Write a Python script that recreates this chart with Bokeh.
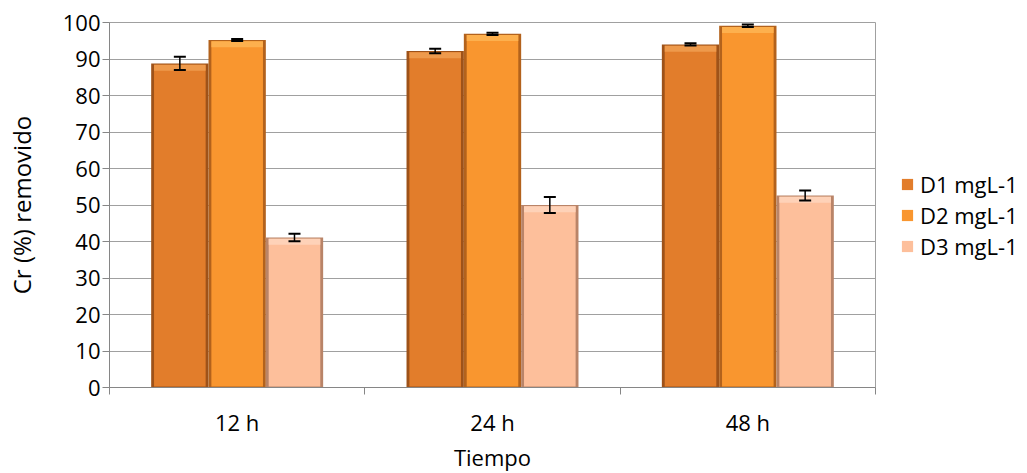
from bokeh.plotting import figure
from bokeh.models import (ColumnDataSource, Range1d, FixedTicker, Whisker, TeeHead,
                          Legend, LegendItem)
from bokeh.embed import file_html
from bokeh.resources import INLINE

# ---- data -------------------------------------------------------------
times = ["12 h", "24 h", "48 h"]
series = ["D1 mgL-1", "D2 mgL-1", "D3 mgL-1"]
d1 = [88.8, 92.2, 94.0]
d2 = [95.2, 96.9, 99.1]
d3 = [41.1, 50.0, 52.6]
e1 = [1.8, 0.6, 0.3]
e2 = [0.3, 0.3, 0.35]
e3 = [1.0, 2.2, 1.4]
y_ticks = [0, 10, 20, 30, 40, 50, 60, 70, 80, 90, 100]

# ---- style ------------------------------------------------------------
FONT = "Open Sans"
W = 0.2245
offsets = [-W, 0.0, W]
face = ["#E27D2B", "#F9962F", "#FDBF9B"]
edge = ["#9E5219", "#B3621C", "#B98468"]
band = ["#EE9A4C", "#FDB04E", "#FED2B8"]

p = figure(frame_width=766, frame_height=365, output_backend="svg",
           toolbar_location=None,
           x_range=Range1d(0, 3), y_range=Range1d(0, 100),
           min_border_left=109, min_border_right=150,
           min_border_top=22, min_border_bottom=85)
p.background_fill_color = "white"
p.border_fill_color = "white"
p.outline_line_color = "#A0A0A0"
p.outline_line_width = 1

values = [d1, d2, d3]
errors = [e1, e2, e3]
items = []
for k in range(3):
    vals = values[k]
    errs = errors[k]
    xs = [i + 0.5 + offsets[k] for i in range(len(times))]
    src = ColumnDataSource(dict(
        x=xs, top=vals,
        face_top=[v - 0.35 for v in vals],
        band_bot=[v - 2.0 for v in vals],
        up=[v + e for v, e in zip(vals, errs)],
        lo=[v - e for v, e in zip(vals, errs)],
    ))
    p.vbar(x="x", top="top", bottom=0, width=W, source=src,
           fill_color=edge[k], line_color=None)
    r = p.vbar(x="x", top="face_top", bottom=0.3, width=W * 0.9, source=src,
               fill_color=face[k], line_color=None)
    p.vbar(x="x", top="face_top", bottom="band_bot", width=W * 0.9, source=src,
           fill_color=band[k], line_color=None)
    items.append(LegendItem(label=series[k], renderers=[r]))
    wk = Whisker(source=src, base="x", upper="up", lower="lo", level="overlay",
                 line_color="black", line_width=1.5,
                 upper_head=TeeHead(size=12, line_width=2, line_color="black"),
                 lower_head=TeeHead(size=12, line_width=2, line_color="black"))
    p.add_layout(wk)

legend = Legend(items=items, location=(25, 126))
legend.label_text_font = FONT
legend.label_text_font_size = "22px"
legend.label_text_color = "black"
legend.glyph_width = 14
legend.glyph_height = 14
legend.label_standoff = 6
legend.spacing = 1
legend.padding = 0
legend.margin = 0
legend.border_line_color = None
legend.background_fill_alpha = 0
p.add_layout(legend, "right")

# x axis: labels at category centres, ticks at boundaries
p.xaxis.ticker = FixedTicker(ticks=[i + 0.5 for i in range(len(times))],
                             minor_ticks=[i for i in range(len(times) + 1)])
p.xaxis.major_label_overrides = {i + 0.5: t for i, t in enumerate(times)}
p.xaxis.major_tick_line_color = None
p.xaxis.major_tick_out = 0
p.xaxis.major_tick_in = 0
p.xaxis.minor_tick_out = 7
p.xaxis.minor_tick_in = 0
p.xaxis.minor_tick_line_color = "#868686"
p.xaxis.major_label_standoff = 12
p.xaxis.axis_label = "Tiempo"
p.xaxis.axis_label_standoff = 2

p.yaxis.ticker = FixedTicker(ticks=y_ticks, minor_ticks=[])
p.yaxis.major_tick_out = 7
p.yaxis.major_tick_in = 0
p.yaxis.major_tick_line_color = "#868686"
p.yaxis.major_label_standoff = 2
p.yaxis.axis_label = "Cr (%) removido"
p.yaxis.axis_label_standoff = 22

for ax in (p.xaxis[0], p.yaxis[0]):
    ax.axis_line_color = "#868686"
    ax.axis_line_width = 1
    ax.major_label_text_font = FONT
    ax.major_label_text_font_size = "22px"
    ax.major_label_text_color = "black"
    ax.axis_label_text_font = FONT
    ax.axis_label_text_font_size = "22px"
    ax.axis_label_text_font_style = "normal"
    ax.axis_label_text_color = "black"
p.yaxis.axis_label_text_font_size = "24px"

p.xgrid.grid_line_color = None
p.ygrid.grid_line_color = "#A0A0A0"
p.ygrid.grid_line_width = 1

open("out.html", "w").write(file_html(p, INLINE))
